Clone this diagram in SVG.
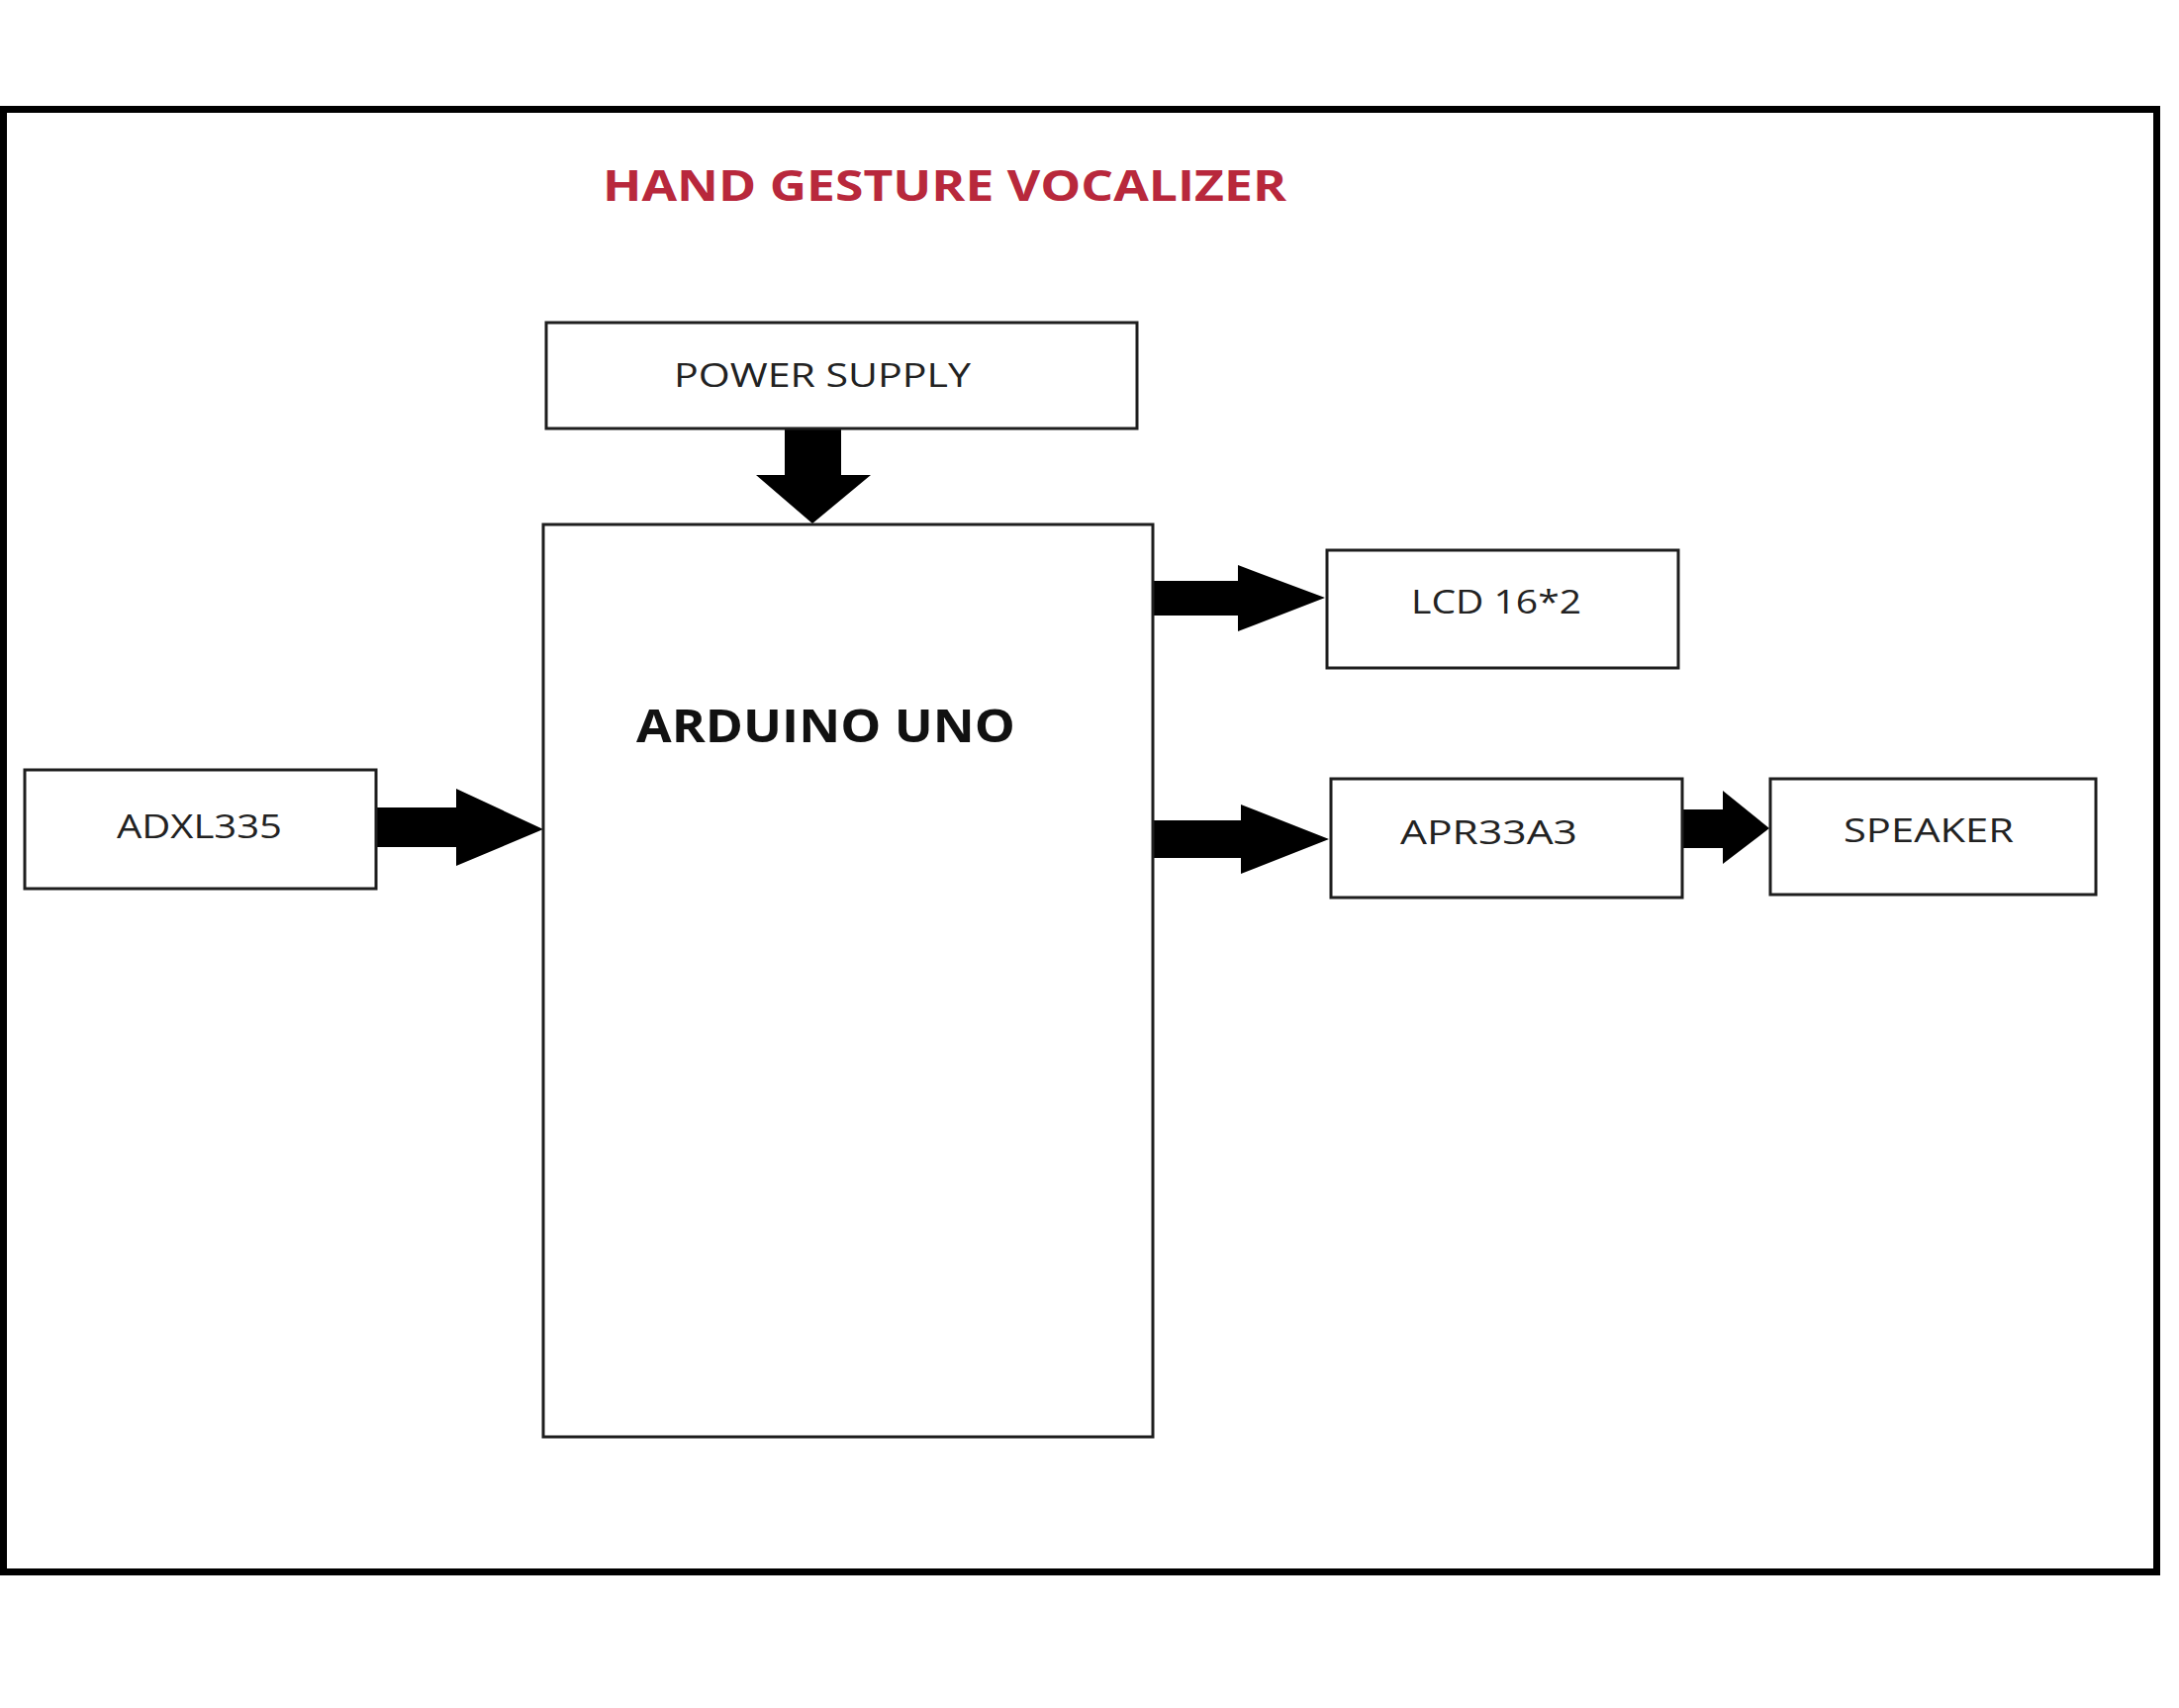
<svg xmlns="http://www.w3.org/2000/svg" width="2202" height="1726" viewBox="0 0 2202 1726">
<style>
.box{fill:#fff;stroke:#1e1e1e;stroke-width:3}
.lbl{font-family:"Open Sans","Liberation Sans",sans-serif;font-size:33px;fill:#222}
.arrow{fill:#000}
</style>
<rect width="2202" height="1726" fill="#fff"/>
<rect x="3.5" y="110.5" width="2176" height="1478" fill="none" stroke="#000" stroke-width="7"/>
<text x="609" y="203" textLength="691" lengthAdjust="spacingAndGlyphs" font-family="'Open Sans','Liberation Sans',sans-serif" font-weight="bold" font-size="43" fill="#B8283C">HAND GESTURE VOCALIZER</text>
<g id="connectors">
<polygon class="arrow" points="793,433 850,433 850,480 880,480 821,529 764,480 793,480"/>
<polygon class="arrow" points="380,816 461,816 461,797 549,838 461,875 461,856 380,856"/>
<polygon class="arrow" points="1165,587 1251,587 1251,571 1339,604 1251,638 1251,622 1165,622"/>
<polygon class="arrow" points="1165,829 1254,829 1254,813 1343,848 1254,883 1254,867 1165,867"/>
<polygon class="arrow" points="1700,818 1741,818 1741,799 1788,837 1741,873 1741,857 1700,857"/>
</g>
<g id="power-supply">
<rect class="box" x="552" y="326" width="597" height="107"/>
<text class="lbl" x="681" y="391" textLength="300" lengthAdjust="spacingAndGlyphs">POWER SUPPLY</text>
</g>
<g id="arduino-uno">
<rect class="box" x="549" y="530" width="616" height="922"/>
<text x="643" y="750" textLength="383" lengthAdjust="spacingAndGlyphs" font-family="'Open Sans','Liberation Sans',sans-serif" font-weight="bold" font-size="46" fill="#111">ARDUINO UNO</text>
</g>
<g id="lcd">
<rect class="box" x="1341" y="556" width="355" height="119"/>
<text class="lbl" x="1426" y="620" textLength="172" lengthAdjust="spacingAndGlyphs">LCD 16*2</text>
</g>
<g id="adxl335">
<rect class="box" x="25" y="778" width="355" height="120"/>
<text class="lbl" x="118" y="847" textLength="167" lengthAdjust="spacingAndGlyphs">ADXL335</text>
</g>
<g id="apr33a3">
<rect class="box" x="1345" y="787" width="355" height="120"/>
<text class="lbl" x="1415" y="853" textLength="179" lengthAdjust="spacingAndGlyphs">APR33A3</text>
</g>
<g id="speaker">
<rect class="box" x="1789" y="787" width="329" height="117"/>
<text class="lbl" x="1863" y="851" textLength="172" lengthAdjust="spacingAndGlyphs">SPEAKER</text>
</g>
</svg>
